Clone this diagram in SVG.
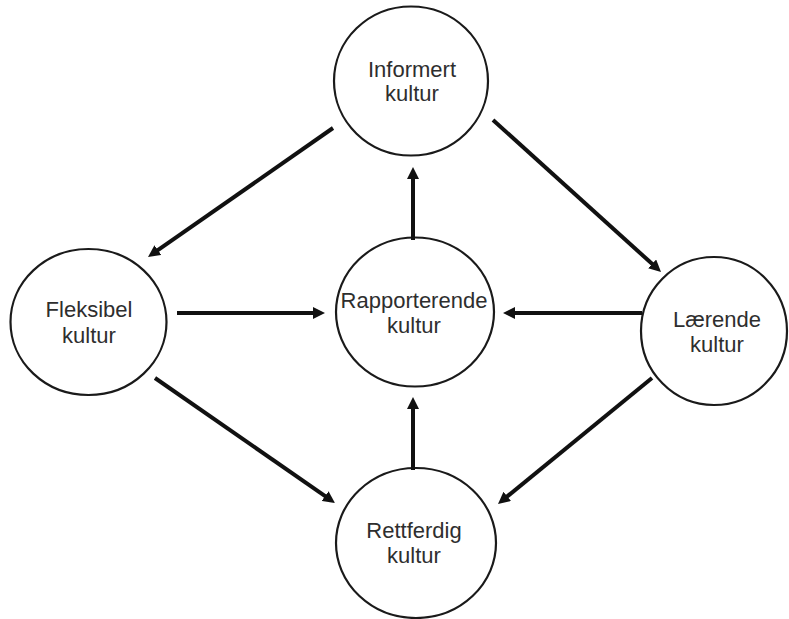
<svg xmlns="http://www.w3.org/2000/svg" width="789" height="619" viewBox="0 0 789 619">
  <style>
    .node ellipse { fill: #ffffff; stroke: #1a1a1a; stroke-width: 2.2; }
    .node text { font-family: "Liberation Sans", Arial, sans-serif; font-size: 22px; fill: #2e2e2e; text-anchor: middle; }
    .edge { stroke: #111111; stroke-width: 4; fill: none; marker-end: url(#arrow); }
  </style>
  <defs>
    <marker id="arrow" markerUnits="userSpaceOnUse" markerWidth="12" markerHeight="12" refX="4" refY="6" orient="auto">
      <path d="M0,0 L12,6 L0,12 z" fill="#111111"/>
    </marker>
  </defs>
  <rect width="789" height="619" fill="#ffffff"/>

  <g id="informert" class="node">
    <ellipse cx="411" cy="81" rx="77" ry="74.5"/>
    <text x="412" y="77">Informert</text>
    <text x="412" y="101">kultur</text>
  </g>
  <g id="fleksibel" class="node">
    <ellipse cx="88.5" cy="322" rx="78" ry="73"/>
    <text x="89" y="317">Fleksibel</text>
    <text x="89" y="343">kultur</text>
  </g>
  <g id="rapporterende" class="node">
    <ellipse cx="415" cy="312" rx="79" ry="74.5"/>
    <text x="414" y="308">Rapporterende</text>
    <text x="414" y="333">kultur</text>
  </g>
  <g id="laerende" class="node">
    <ellipse cx="714" cy="331" rx="73" ry="74"/>
    <text x="717" y="327">Lærende</text>
    <text x="717" y="352">kultur</text>
  </g>
  <g id="rettferdig" class="node">
    <ellipse cx="416" cy="543" rx="80" ry="75"/>
    <text x="414" y="538">Rettferdig</text>
    <text x="414" y="563">kultur</text>
  </g>

  <g id="connectors">
    <line class="edge" x1="333" y1="128" x2="154.6" y2="252.4"/>
    <line class="edge" x1="493" y1="120" x2="655.1" y2="266.6"/>
    <line class="edge" x1="177" y1="313" x2="317" y2="313"/>
    <line class="edge" x1="642" y1="313" x2="511" y2="313"/>
    <line class="edge" x1="413" y1="240" x2="413" y2="175"/>
    <line class="edge" x1="413" y1="470" x2="413" y2="405"/>
    <line class="edge" x1="155" y1="378" x2="328.4" y2="498.4"/>
    <line class="edge" x1="652" y1="378" x2="504.2" y2="498.9"/>
  </g>
</svg>
